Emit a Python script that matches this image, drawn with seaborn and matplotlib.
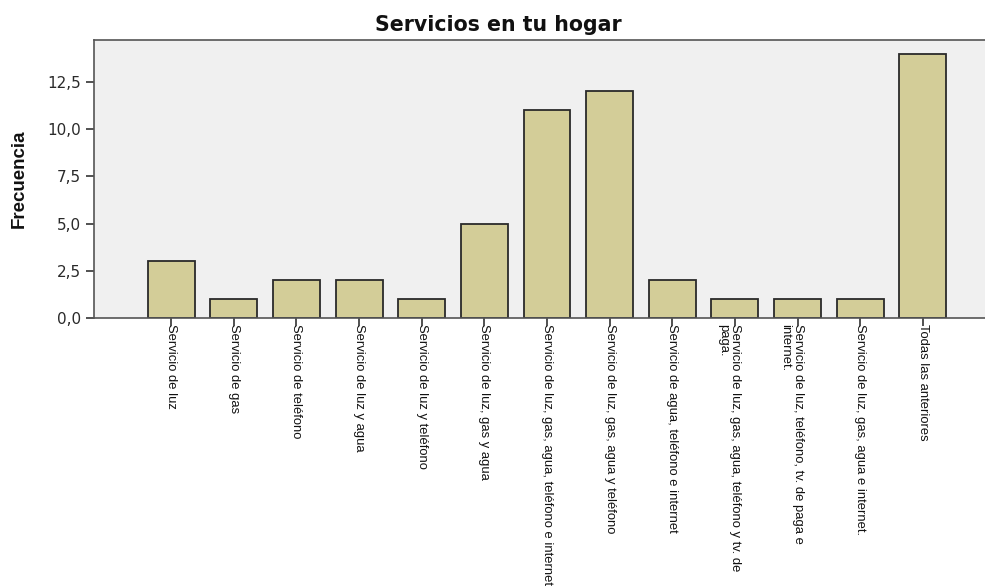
import matplotlib
matplotlib.use("Agg")
import matplotlib.pyplot as plt
import matplotlib.transforms as mtransforms
import seaborn as sns
import pandas as pd

# data
categorias = [
    "Servicio de luz",
    "Servicio de gas",
    "Servicio de teléfono",
    "Servicio de luz y agua",
    "Servicio de luz y teléfono",
    "Servicio de luz, gas y agua",
    "Servicio de luz, gas, agua, teléfono e internet",
    "Servicio de luz, gas, agua y teléfono",
    "Servicio de agua, teléfono e internet",
    "Servicio de luz, gas, agua, teléfono y tv. de\npaga.",
    "Servicio de luz, teléfono, tv. de paga e\ninternet.",
    "Servicio de luz, gas, agua e internet.",
    "Todas las anteriores",
]
frecuencia = [3, 1, 2, 2, 1, 5, 11, 12, 2, 1, 1, 1, 14]
yticks = [0, 2.5, 5.0, 7.5, 10.0, 12.5]
ytick_labels = ["0,0", "2,5", "5,0", "7,5", "10,0", "12,5"]

df = pd.DataFrame({"categoria": categorias, "frecuencia": frecuencia})

sns.set_theme(style="white")
plt.rcParams["font.family"] = ["DejaVu Sans"]
narrow = ["Liberation Sans Narrow", "Liberation Sans", "DejaVu Sans"]

fig = plt.figure(figsize=(9.85, 5.88), dpi=100)
# plot area runs off the right edge, as in the reference
ax = fig.add_axes([94 / 985, 270 / 588, 906 / 985, 278 / 588])
ax.set_facecolor("#f0f0f0")

sns.barplot(data=df, x="categoria", y="frecuencia", color="#d3cd98",
            edgecolor="#2a2a2a", linewidth=1.3, width=0.75, saturation=1, ax=ax)

ax.set_xlim(-1.23, 13.23)
ax.set_ylim(0, 14.72)
ax.set_yticks(yticks)
ax.set_yticklabels(ytick_labels, fontsize=11, color="#2a2a2a")
ax.set_xlabel("")
ax.set_ylabel("Frecuencia", family=narrow, fontsize=13.5, fontweight="bold",
              labelpad=14, color="#111111")
fig.text(498 / 985, 1 - 25 / 588, "Servicios en tu hogar", fontsize=14.8,
         fontweight="bold", ha="center", va="center", color="#111111")

for s in ax.spines.values():
    s.set_color("#555555")
    s.set_linewidth(1.2)
ax.spines["right"].set_visible(False)

ax.tick_params(axis="both", which="major", length=6, width=1.2, color="#333333",
               bottom=True, left=True)
ax.tick_params(axis="x", pad=-2)

# rotated category labels, first line centred on the tick
shift = mtransforms.ScaledTranslation(6 / 100, 0, fig.dpi_scale_trans)
for lbl in ax.get_xticklabels():
    lbl.set_rotation(-90)
    lbl.set_rotation_mode("anchor")
    lbl.set_ha("left")
    lbl.set_va("top")
    lbl.set_family(narrow)
    lbl.set_fontsize(9.4)
    lbl.set_linespacing(1.0)
    lbl.set_color("#111111")
    lbl.set_transform(lbl.get_transform() + shift)

fig.savefig("out.png", dpi=100, facecolor="white")
